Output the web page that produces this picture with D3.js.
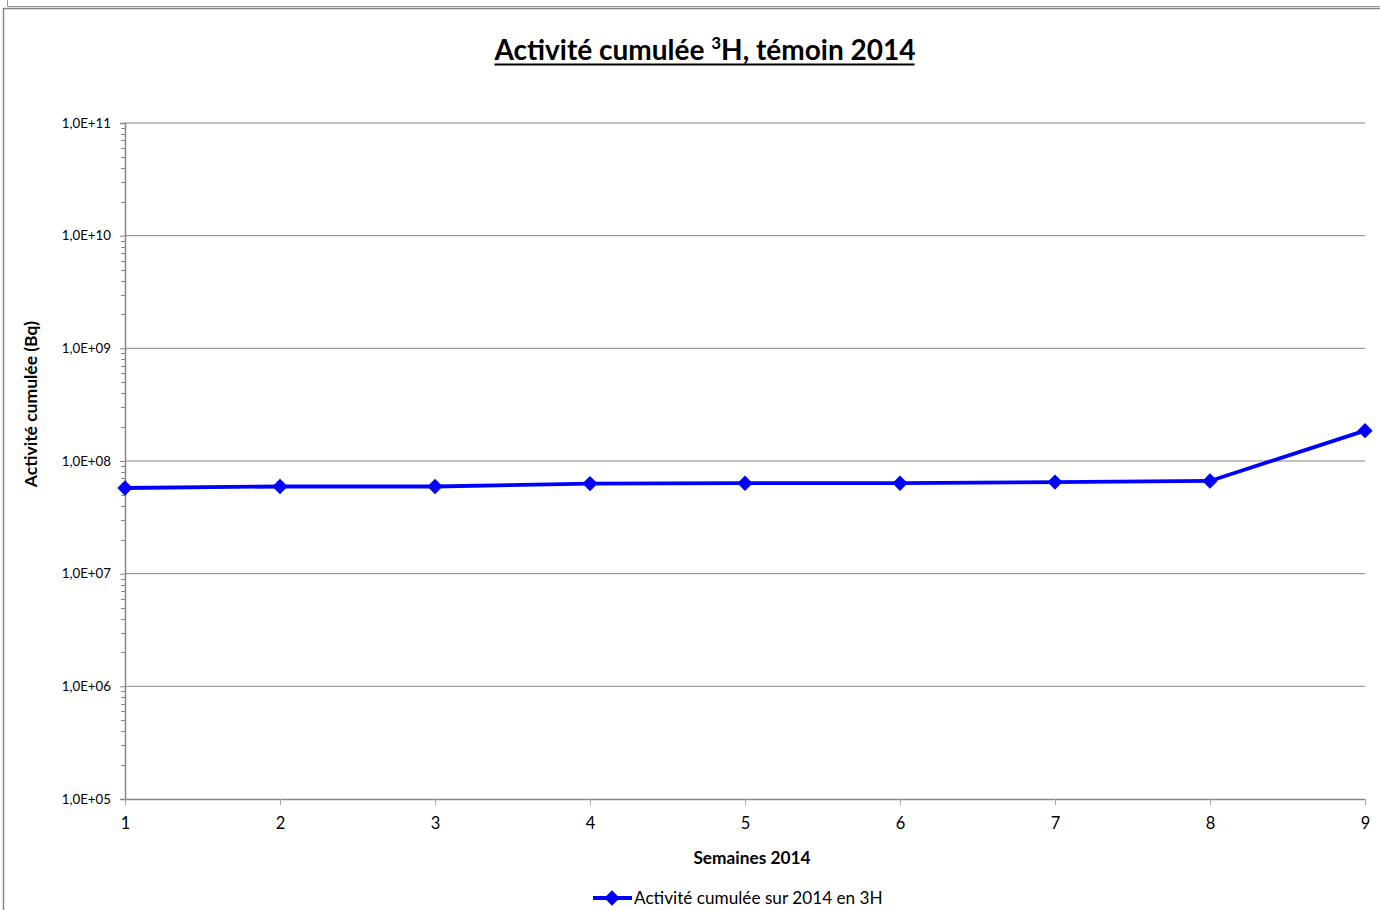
<!DOCTYPE html>
<html><head><meta charset="utf-8">
<script src="https://cdn.jsdelivr.net/npm/d3@7"></script>
<style>body{margin:0;background:#fff;} text{font-family:Lato,"Open Sans",sans-serif;}</style>
</head><body>
<svg id="c" width="1380" height="910"></svg>
<script>
const weeks = [1,2,3,4,5,6,7,8,9];
const values = [5.76e7, 5.94e7, 5.94e7, 6.3e7, 6.35e7, 6.35e7, 6.5e7, 6.65e7, 1.86e8];
const yTickValues = [1e5,1e6,1e7,1e8,1e9,1e10,1e11];
const yTickLabels = ["1,0E+05","1,0E+06","1,0E+07","1,0E+08","1,0E+09","1,0E+10","1,0E+11"];
const titleMain = "Activité cumulée ";
const titleSup = "3";
const titleRest = "H, témoin 2014";
const xTitle = "Semaines 2014";
const yTitle = "Activité cumulée (Bq)";
const legendLabel = "Activité cumulée sur 2014 en 3H";

const svg = d3.select("#c");
const grey = "#868686";
// frame
svg.append("path").attr("d","M7.5,0 V6.5 H1380").attr("fill","none").attr("stroke","#999").attr("stroke-width",1);
svg.append("path").attr("d","M3.5,910 V8.5 H1380").attr("fill","none").attr("stroke",grey).attr("stroke-width",1.5);

const x = d3.scaleLinear().domain([1,9]).range([125,1365]);
const y = d3.scaleLog().domain([1e5,1e11]).range([799,123]);

// grid
svg.append("g").selectAll("line").data(yTickValues.slice(1)).join("line")
  .attr("x1",125).attr("x2",1365).attr("y1",d=>y(d)).attr("y2",d=>y(d))
  .attr("stroke",grey).attr("stroke-width",1);

// minor ticks
const minors = [];
for (let e=5;e<11;e++) for (let m=2;m<=9;m++) minors.push(m*Math.pow(10,e));
svg.append("g").selectAll("line").data(minors).join("line")
  .attr("x1",121).attr("x2",125).attr("y1",d=>Math.round(y(d))+0.5).attr("y2",d=>Math.round(y(d))+0.5)
  .attr("stroke",grey).attr("stroke-width",1);

// y axis
const yAxis = d3.axisLeft(y).tickValues(yTickValues).tickFormat((d,i)=>yTickLabels[i]).tickSize(5).tickPadding(9);
const gy = svg.append("g").attr("transform","translate(125,0)").call(yAxis);
gy.select(".domain").attr("stroke",grey).attr("stroke-width",1.5);
gy.selectAll(".tick line").attr("stroke",grey);
gy.selectAll("text").attr("font-size",13.3).attr("fill","#000").attr("font-family","Lato, sans-serif");

// x axis
const xAxis = d3.axisBottom(x).tickValues(weeks).tickFormat(d3.format("d")).tickSize(6).tickPadding(12).tickSizeOuter(0);
const gx = svg.append("g").attr("transform","translate(0,799)").call(xAxis);
gx.select(".domain").attr("stroke",grey).attr("stroke-width",1.5);
gx.selectAll(".tick line").attr("stroke","#aaa").attr("stroke-width",1);
gx.selectAll("text").attr("font-size",16.5).attr("fill","#000").attr("font-family","Lato, sans-serif");

// line
const line = d3.line().x((d,i)=>x(weeks[i])).y(d=>y(d));
svg.append("path").datum(values).attr("d",line).attr("fill","none").attr("stroke","#0000ff").attr("stroke-width",3.8);
const diamond = d3.symbol().type(d3.symbolDiamond2).size(150);
svg.append("g").selectAll("path").data(values).join("path")
  .attr("d",diamond).attr("transform",(d,i)=>`translate(${x(weeks[i])},${y(d)})`).attr("fill","#0000ff");

// title
const t = svg.append("text").attr("x",705).attr("y",60).attr("text-anchor","middle")
  .attr("font-size",28).attr("font-weight","bold").attr("fill","#000");
t.append("tspan").text(titleMain);
t.append("tspan").text(titleSup).attr("font-size",17).attr("dy",-11);
t.append("tspan").text(titleRest).attr("dy",11);
const bb = t.node().getBBox();
svg.append("line").attr("x1",bb.x+1).attr("x2",bb.x+bb.width-1).attr("y1",64.5).attr("y2",64.5).attr("stroke","#000").attr("stroke-width",2);

// axis titles
svg.append("text").attr("x",752).attr("y",864).attr("text-anchor","middle").attr("font-size",17.3).attr("font-weight","bold").attr("fill","#000").text(xTitle);
svg.append("text").attr("transform","translate(37,404) rotate(-90)").attr("text-anchor","middle").attr("font-size",17.5).attr("font-weight","bold").attr("fill","#000").text(yTitle);

// legend
svg.append("line").attr("x1",593).attr("x2",632).attr("y1",898).attr("y2",898).attr("stroke","#0000ff").attr("stroke-width",3.8);
svg.append("path").attr("d",diamond).attr("transform","translate(612,898)").attr("fill","#0000ff");
svg.append("text").attr("x",634).attr("y",904).attr("font-size",17.2).attr("fill","#000").text(legendLabel);
</script>
</body></html>
